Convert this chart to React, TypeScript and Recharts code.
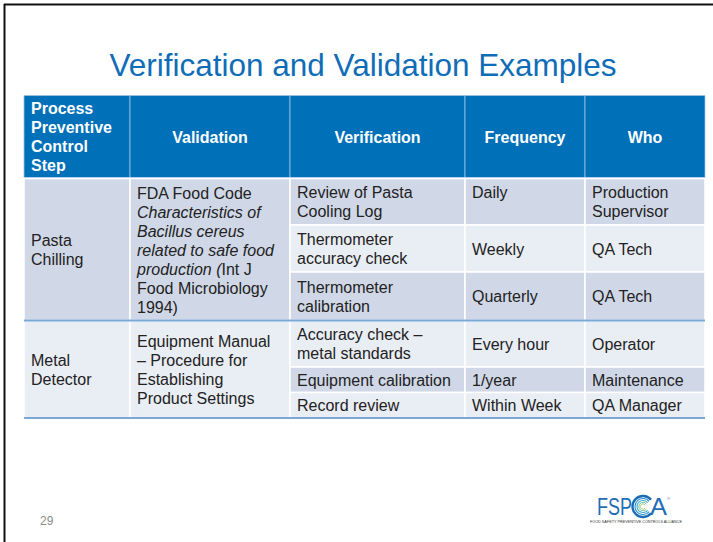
import { Surface, Layer, Rectangle } from 'recharts'

// table content, one entry per process step / verification row
const columnHeaders = ['Process\nPreventive\nControl\nStep', 'Validation', 'Verification', 'Frequency', 'Who']
const controlSteps = ['Pasta\nChilling', 'Metal\nDetector']
const validationRefs = [
  'FDA Food Code\n_Characteristics of_\n_Bacillus cereus_\n_related to safe food_\n_production (_Int J\nFood Microbiology\n1994)',
  'Equipment Manual\n– Procedure for\nEstablishing\nProduct Settings',
]
const verificationActivities = [
  ['Review of Pasta\nCooling Log', 'Thermometer\naccuracy check', 'Thermometer\ncalibration'],
  ['Accuracy check –\nmetal standards', 'Equipment calibration', 'Record review'],
]
const frequencies = [
  ['Daily\n', 'Weekly', 'Quarterly'],
  ['Every hour', '1/year', 'Within Week'],
]
const responsible = [
  ['Production\nSupervisor', 'QA Tech', 'QA Tech'],
  ['Operator', 'Maintenance', 'QA Manager'],
]

const W = 713
const H = 542
const FONT = '"Liberation Sans", Arial, sans-serif'
const colEdges = [24, 130, 290, 465, 585, 705]
const headerTop = 95.5
const headerBottom = 177.5
const groupRowEdges = [
  [178.5, 225, 272, 320.5],
  [320.5, 367, 392.5, 418],
]
const LINE_H = 19
const PAD = 7
const DARK = '#d0d8e8'
const LIGHT = '#e9edf4'
const BLUE = '#0070b8'
const RULE = '#7aa9d8'

function Lines({ x, cy, text, anchor = 'start', color = '#222', bold = false, size = 16 }: any) {
  const lines = String(text).split('\n')
  const first = cy - ((lines.length - 1) * LINE_H) / 2
  return (
    <text
      x={x}
      fontFamily={FONT}
      fontSize={size}
      fontWeight={bold ? 'bold' : 'normal'}
      fill={color}
      textAnchor={anchor}
    >
      {lines.map((ln, i) => {
        // _..._ marks italic parts
        const parts = ln.split('_')
        return (
          <tspan key={i} x={x} y={first + i * LINE_H + 6}>
            {parts.map((p, j) => (
              <tspan key={j} fontStyle={j % 2 === 1 ? 'italic' : 'normal'}>
                {p}
              </tspan>
            ))}
          </tspan>
        )
      })}
    </text>
  )
}

function arcPath(cx: number, cy: number, r: number) {
  const a = (40 * Math.PI) / 180
  const x = cx + r * Math.cos(a)
  return `M${x},${cy - r * Math.sin(a)} A${r},${r} 0 1 0 ${x},${cy + r * Math.sin(a)}`
}

export default function App() {
  const cells: any[] = []
  const texts: any[] = []

  // header
  columnHeaders.forEach((h, c) => {
    const x0 = colEdges[c]
    const x1 = colEdges[c + 1]
    cells.push(
      <Rectangle key={`h${c}`} x={x0} y={headerTop} width={x1 - x0} height={headerBottom - headerTop} fill={BLUE} stroke="#9cc3e6" strokeWidth={0.8} />,
    )
    const cy = (headerTop + headerBottom) / 2
    texts.push(
      c === 0 ? (
        <Lines key={`ht${c}`} x={x0 + PAD} cy={cy} text={h} color="#fff" bold />
      ) : (
        <Lines key={`ht${c}`} x={(x0 + x1) / 2} cy={cy} text={h} color="#fff" bold anchor="middle" />
      ),
    )
  })

  controlSteps.forEach((step, g) => {
    const edges = groupRowEdges[g]
    const top = edges[0]
    const bottom = edges[edges.length - 1]
    const groupFill = g === 0 ? DARK : LIGHT
    ;[0, 1].forEach((c) => {
      cells.push(
        <Rectangle key={`g${g}c${c}`} x={colEdges[c]} y={top} width={colEdges[c + 1] - colEdges[c]} height={bottom - top} fill={groupFill} stroke="#fff" strokeWidth={1.5} />,
      )
    })
    texts.push(<Lines key={`s${g}`} x={colEdges[0] + PAD} cy={(top + bottom) / 2} text={step} />)
    texts.push(<Lines key={`v${g}`} x={colEdges[1] + PAD} cy={(top + bottom) / 2} text={validationRefs[g]} />)

    verificationActivities[g].forEach((act, r) => {
      const y0 = edges[r]
      const y1 = edges[r + 1]
      const fill = (g * 3 + r) % 2 === 0 ? DARK : LIGHT
      const cy = (y0 + y1) / 2
      const row = [act, frequencies[g][r], responsible[g][r]]
      row.forEach((val, k) => {
        const c = k + 2
        cells.push(
          <Rectangle key={`r${g}${r}${c}`} x={colEdges[c]} y={y0} width={colEdges[c + 1] - colEdges[c]} height={y1 - y0} fill={fill} stroke="#fff" strokeWidth={1.5} />,
        )
        texts.push(<Lines key={`t${g}${r}${c}`} x={colEdges[c] + PAD} cy={cy} text={val} />)
      })
    })
  })

  return (
    <div style={{ position: 'absolute', left: 0, top: 0, width: W, height: H, background: '#fff' }}>
      <Surface width={W} height={H} viewBox={{ x: 0, y: 0, width: W, height: H }}>
        {/* slide frame */}
        <line x1={4} y1={4.5} x2={W} y2={4.5} stroke="#111" strokeWidth={2} />
        <line x1={4.5} y1={4} x2={4.5} y2={H} stroke="#111" strokeWidth={2} />

        <text x={363} y={76} textAnchor="middle" fontFamily={FONT} fontSize={31.5} fill="#0f6db7">
          Verification and Validation Examples
        </text>

        <Layer>{cells}</Layer>
        <line x1={colEdges[0]} y1={groupRowEdges[1][0]} x2={colEdges[5]} y2={groupRowEdges[1][0]} stroke={RULE} strokeWidth={2} />
        <line x1={colEdges[0]} y1={groupRowEdges[1][3]} x2={colEdges[5]} y2={groupRowEdges[1][3]} stroke={RULE} strokeWidth={2} />
        <Layer>{texts}</Layer>

        <text x={40} y={525} fontFamily={FONT} fontSize={12} fill="#8c8c8c">29</text>

        {/* FSPCA logo */}
        <Layer>
          <text x={597} y={515} fontFamily={FONT} fontSize={23} fill="#1d6db5" textLength={35} lengthAdjust="spacingAndGlyphs">FSP</text>
          {[
            { r: 10.5, c: '#1d6db5', w: 2.4 },
            { r: 8, c: '#2a8fd0', w: 1.1 },
            { r: 6, c: '#3aa9c6', w: 1.1 },
            { r: 4.2, c: '#67c39e', w: 1 },
            { r: 2.6, c: '#a9d677', w: 1 },
          ].map((a, i) => (
            <path key={i} d={arcPath(643, 506.5, a.r)} fill="none" stroke={a.c} strokeWidth={a.w} />
          ))}
          <text x={650} y={515} fontFamily={FONT} fontSize={23} fill="#1d6db5" textLength={17} lengthAdjust="spacingAndGlyphs">A</text>
          <text x={667} y={500} fontFamily={FONT} fontSize={4} fill="#1d6db5">®</text>
          <text x={590} y={523} fontFamily={FONT} fontSize={4.2} fill="#333" textLength={92} lengthAdjust="spacingAndGlyphs">
            FOOD SAFETY PREVENTIVE CONTROLS ALLIANCE
          </text>
        </Layer>
      </Surface>
    </div>
  )
}
